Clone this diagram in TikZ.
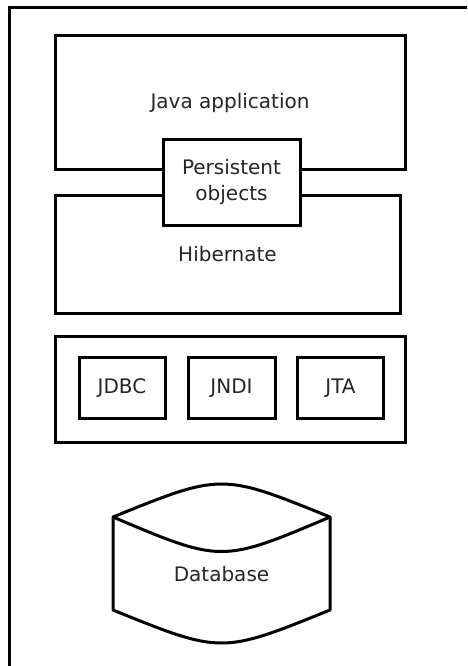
\documentclass[tikz,border=0pt]{standalone}
\usepackage{fontspec}
\setmainfont{DejaVu Sans}
\begin{document}
\begin{tikzpicture}[x=1pt,y=-1pt,
  box/.style={draw=black,line width=3pt,fill=white,inner sep=0pt,
    font=\fontsize{20}{26}\selectfont,text=black!85,align=center},
  lbl/.style={inner sep=0pt,font=\fontsize{20}{26}\selectfont,text=black!85,align=center}]
\useasboundingbox (0,0) rectangle (467,666);
% outer frame
\coordinate (fb) at (9.5,666);
\coordinate (fc) at (9.5,8);
\coordinate (fr) at (467,8);
\draw[line width=3pt] (fb) -- (fc) -- (fr);
% Java application
\node[box,minimum width=350pt,minimum height=133pt] (java) at (230,102.5) {Java application};
% Hibernate
\node[box,minimum width=345pt,minimum height=118pt] (hib) at (227.5,254) {Hibernate};
% Persistent objects
\node[box,minimum width=137pt,minimum height=86pt] (pers) at (231.5,182) {Persistent\\objects};
% container
\node[box,minimum width=350pt,minimum height=106pt] (cont) at (230,389) {};
\node[box,minimum width=86pt,minimum height=61pt] (jdbc) at (122,388) {JDBC};
\node[box,minimum width=87pt,minimum height=61pt] (jndi) at (231.5,388) {JNDI};
\node[box,minimum width=86pt,minimum height=61pt] (jta) at (340.5,388) {JTA};
% Database cylinder
\draw[line width=3pt,line join=round,fill=white]
  (113,517) .. controls (221.5,473) .. (330,517)
  -- (330,610) .. controls (221.5,654) .. (113,610) -- cycle;
\draw[line width=3pt] (113,517) .. controls (221.5,563) .. (330,517);
\node[lbl] (db) at (221.5,574) {Database};
\end{tikzpicture}
\end{document}
